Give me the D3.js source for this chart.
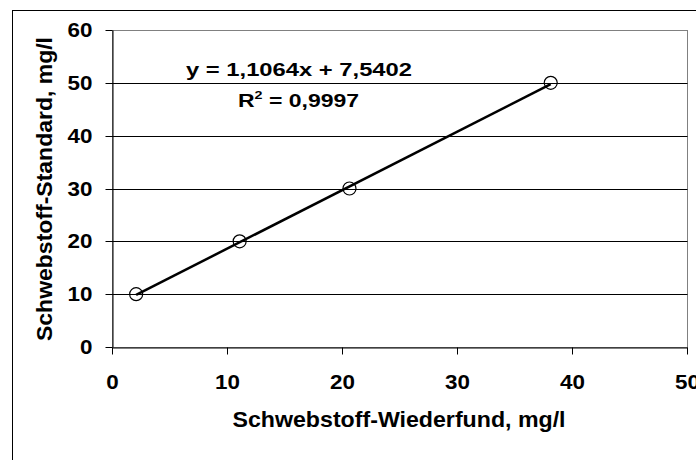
<!DOCTYPE html>
<html>
<head>
<meta charset="utf-8">
<script src="https://cdn.jsdelivr.net/npm/d3@7"></script>
<style>
  html, body { margin: 0; padding: 0; background: #fff; }
  svg text { font-family: "Liberation Sans", Arial, sans-serif; font-weight: bold; fill: #000; }
</style>
</head>
<body>
<svg id="chart" width="696" height="460"></svg>
<script>
// ---- data ----
const xValues = [2.1, 11.1, 20.65, 38.15];      // Schwebstoff-Wiederfund, mg/l
const yValues = [10, 20, 30, 50];               // Schwebstoff-Standard, mg/l
const xTicks = [0, 10, 20, 30, 40, 50];
const yTicks = [0, 10, 20, 30, 40, 50, 60];
const trendSlope = 1.1064;
const trendIntercept = 7.5402;
const equationLabel = "y = 1,1064x + 7,5402";
const r2Value = "0,9997";
const xTitle = "Schwebstoff-Wiederfund, mg/l";
const yTitle = "Schwebstoff-Standard, mg/l";

const svg = d3.select("#chart");
const pLeft = 112, pRight = 687, pTop = 30, pBottom = 347;

const x = d3.scaleLinear().domain([0, 50]).range([pLeft, pRight]);
const y = d3.scaleLinear().domain([0, 60]).range([pBottom, pTop]);

// outer chart border (extends past the picture on right/bottom)
svg.append("rect").attr("x", 12.5).attr("y", 10.5).attr("width", 720).attr("height", 480)
  .attr("fill", "none").attr("stroke", "#000").attr("stroke-width", 1);

// plot area border (gray)
svg.append("rect").attr("x", pLeft + 0.5).attr("y", pTop + 0.5)
  .attr("width", pRight - pLeft).attr("height", pBottom - pTop)
  .attr("fill", "none").attr("stroke", "#808080").attr("stroke-width", 1);

// gridlines
svg.append("g").selectAll("line").data(yTicks.filter(d => d > 0 && d < 60)).join("line")
  .attr("x1", pLeft).attr("x2", pRight + 0.5)
  .attr("y1", d => Math.round(y(d)) + 0.5).attr("y2", d => Math.round(y(d)) + 0.5)
  .attr("stroke", "#000").attr("stroke-width", 1);

// axes
const yAxis = d3.axisLeft(y).tickValues(yTicks).tickSize(7).tickPadding(13).tickSizeOuter(0);
const gy = svg.append("g").attr("transform", `translate(${pLeft + 0.5},0)`).call(yAxis);
gy.select(".domain").attr("stroke", "#000");
gy.selectAll(".tick line").attr("stroke", "#000");
gy.selectAll(".tick").attr("transform", d => `translate(0,${Math.round(y(d)) + 0.5})`);
gy.selectAll("text").attr("font-size", 19.5).attr("font-family", null)
  .attr("x", -20).attr("transform", "scale(1.15,1) translate(2.6,0)");

const xAxis = d3.axisBottom(x).tickValues(xTicks).tickSize(7).tickPadding(0).tickSizeOuter(0);
const gx = svg.append("g").attr("transform", `translate(0,${pBottom + 0.5})`).call(xAxis);
gx.select(".domain").attr("stroke", "#000");
gx.selectAll(".tick line").attr("stroke", "#000");
gx.selectAll("text").attr("font-size", 19.5).attr("font-family", null)
  .attr("y", 41.5).attr("dy", null).attr("transform", "scale(1.15,1)");
gx.selectAll(".tick").attr("transform", d => `translate(${Math.round(x(d)) + 0.5},0)`);

// trendline
const xMin = d3.min(xValues), xMax = d3.max(xValues);
svg.append("line")
  .attr("x1", x(xMin)).attr("y1", y(trendSlope * xMin + trendIntercept))
  .attr("x2", x(xMax)).attr("y2", y(trendSlope * xMax + trendIntercept))
  .attr("stroke", "#000").attr("stroke-width", 2.5);

// markers
svg.append("g").selectAll("circle").data(xValues.map((v, i) => [v, yValues[i]])).join("circle")
  .attr("cx", d => x(d[0])).attr("cy", d => y(d[1])).attr("r", 6.5)
  .attr("fill", "none").attr("stroke", "#000").attr("stroke-width", 1.2);

// equation labels
svg.append("text").attr("x", 299).attr("y", 76).attr("text-anchor", "middle")
  .attr("font-size", 17.7).attr("textLength", 226).attr("lengthAdjust", "spacingAndGlyphs")
  .text(equationLabel);

const r2 = svg.append("text").attr("x", 298.5).attr("y", 107).attr("text-anchor", "middle")
  .attr("font-size", 17.7).attr("textLength", 121).attr("lengthAdjust", "spacingAndGlyphs");
r2.append("tspan").text("R");
r2.append("tspan").attr("font-size", 11).attr("dy", -8).text("2");
r2.append("tspan").attr("dy", 8).text(" = " + r2Value);

// axis titles
svg.append("text").attr("x", 399).attr("y", 427).attr("text-anchor", "middle")
  .attr("font-size", 22).attr("textLength", 333).attr("lengthAdjust", "spacingAndGlyphs")
  .text(xTitle);

svg.append("text").attr("transform", "translate(52,189) rotate(-90)").attr("text-anchor", "middle")
  .attr("font-size", 22.5).attr("textLength", 304).attr("lengthAdjust", "spacingAndGlyphs")
  .text(yTitle);
</script>
</body>
</html>
